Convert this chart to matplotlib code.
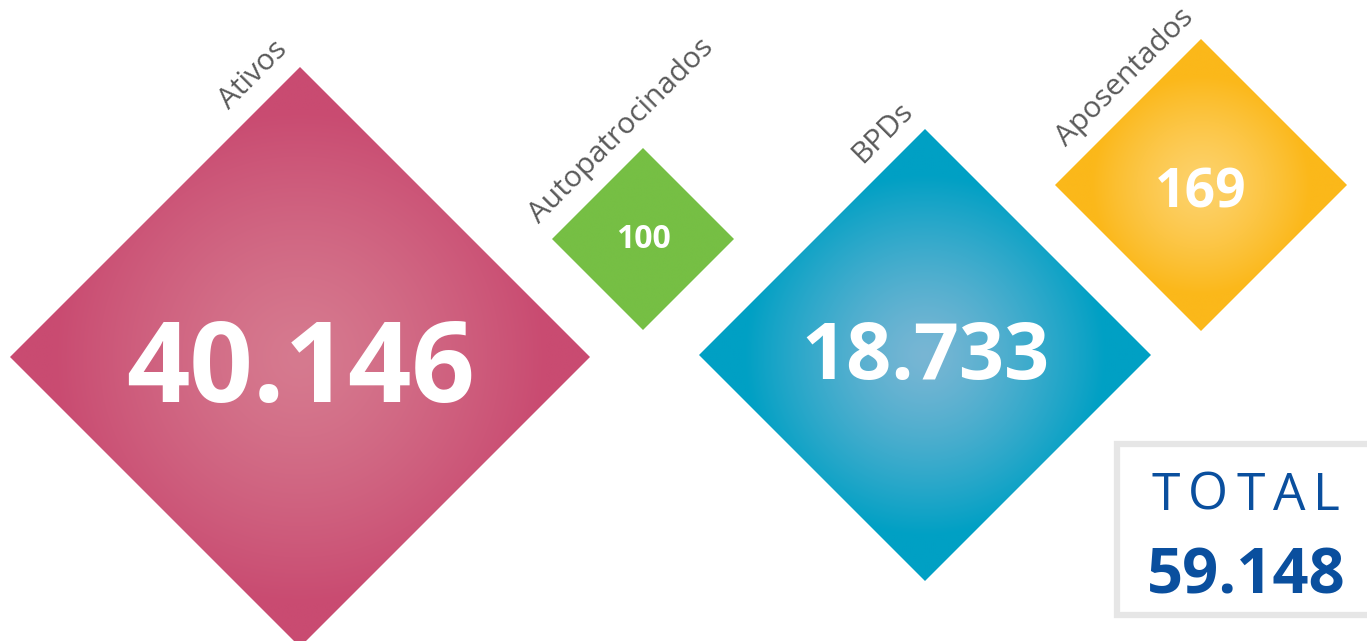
import numpy as np
import matplotlib
matplotlib.use("Agg")
import matplotlib.pyplot as plt
from matplotlib.patches import Polygon, Rectangle
from matplotlib.colors import to_rgb

# ---- data ----
categories = ["Ativos", "Autopatrocinados", "BPDs", "Aposentados"]
values = [40146, 100, 18733, 169]
total_title = "TOTAL"

# ---- layout / style (pixel coords, y downwards) ----
center_x = [300, 643, 925, 1201]
center_y = [357, 239, 355, 185]
half_diag = [290, 91, 226, 146]
edge_colors = ["#c94b71", "#76bf44", "#00a0c4", "#fbb81a"]
center_colors = ["#d67a8f", "#76bf44", "#78b6d4", "#fdd26c"]
grad_radius = [0.85, 1.0, 0.8, 0.75]
value_fontsize = [80, 23, 57, 38.5]
value_baseline = [402, 248, 379, 208]
label_x = [229, 539, 862, 1066]
label_y = [110, 224, 164, 147]

W, H = 1367, 641
fig = plt.figure(figsize=(W / 100, H / 100), dpi=100)
ax = fig.add_axes([0, 0, 1, 1])
ax.set_xlim(0, W)
ax.set_ylim(H, 0)
ax.axis("off")


def fmt(v):
    return f"{v:,}".replace(",", ".")


for i, cat in enumerate(categories):
    cx, cy, h = center_x[i], center_y[i], half_diag[i]
    verts = [(cx - h, cy), (cx, cy - h), (cx + h, cy), (cx, cy + h)]
    poly = Polygon(verts, closed=True, facecolor="none", edgecolor="none")
    ax.add_patch(poly)
    n = 300
    xs = np.linspace(cx - h, cx + h, n)
    ys = np.linspace(cy - h, cy + h, n)
    X, Y = np.meshgrid(xs, ys)
    r = np.sqrt((X - cx) ** 2 + (Y - cy) ** 2) / (grad_radius[i] * h)
    t = np.clip(r, 0, 1) ** 1.3
    c0 = np.array(to_rgb(center_colors[i]))
    c1 = np.array(to_rgb(edge_colors[i]))
    img = c0[None, None, :] * (1 - t[..., None]) + c1[None, None, :] * t[..., None]
    im = ax.imshow(img, extent=(cx - h, cx + h, cy + h, cy - h),
                   interpolation="bilinear", zorder=1)
    im.set_clip_path(poly)

    ax.text(cx, value_baseline[i], fmt(values[i]), ha="center", va="baseline",
            fontsize=value_fontsize[i], fontweight="bold", color="white",
            family="Open Sans", zorder=3)

    ax.text(label_x[i], label_y[i], cat, rotation=45, rotation_mode="anchor",
            ha="left", va="baseline", fontsize=21.5, color="#5a5a5a",
            family="Open Sans", fontweight="normal", zorder=3)

# ---- total box ----
box = Rectangle((1117, 444), 400, 171, facecolor="white", edgecolor="#e6e6e6",
                linewidth=4.5, zorder=2)
ax.add_patch(box)
total = sum(values)

# letter-spaced title, spread between x0 and x1
x0, x1, base = 1152, 1340, 510
renderer = fig.canvas.get_renderer()
letters = []
for ch in total_title:
    t = ax.text(0, base, ch, ha="left", va="baseline", fontsize=37,
                color="#0a4f9e", family="Open Sans", fontweight="normal", zorder=3)
    letters.append(t)
widths = []
inv = ax.transData.inverted()
for t in letters:
    bb = t.get_window_extent(renderer=renderer)
    p0 = inv.transform((bb.x0, bb.y0))
    p1 = inv.transform((bb.x1, bb.y0))
    widths.append(p1[0] - p0[0])
track = (x1 - x0 - sum(widths)) / (len(letters) - 1)
x = x0
for t, w in zip(letters, widths):
    t.set_x(x)
    x += w + track

ax.text(1246, 593, fmt(total), ha="center", va="baseline", fontsize=45.5,
        color="#0a4f9e", family="Open Sans", fontweight="bold", zorder=3)

fig.savefig("out.png", dpi=100)
